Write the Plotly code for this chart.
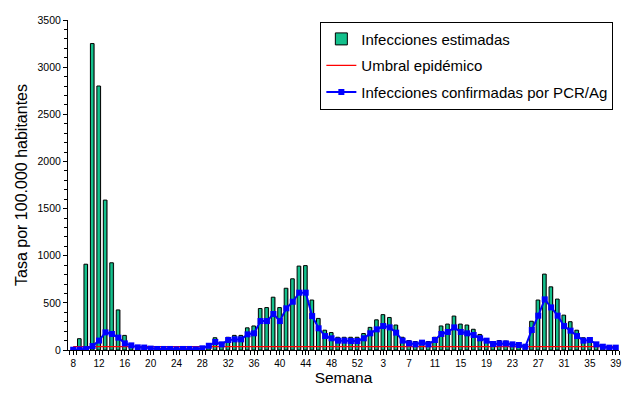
import plotly.graph_objects as go

semanas = [8, 9, 10, 11, 12, 13, 14, 15, 16, 17, 18, 19, 20, 21, 22, 23, 24, 25, 26, 27,
           28, 29, 30, 31, 32, 33, 34, 35, 36, 37, 38, 39, 40, 41, 42, 43, 44, 45, 46, 47,
           48, 49, 50, 51, 52, 53,
           1, 2, 3, 4, 5, 6, 7, 8, 9, 10, 11, 12, 13, 14, 15, 16, 17, 18, 19, 20,
           21, 22, 23, 24, 25, 26, 27, 28, 29, 30, 31, 32, 33, 34, 35, 36, 37, 38, 39]

infecciones_estimadas = [5, 120, 910, 3250, 2800, 1590, 925, 425, 155, 45, 35, 30, 25, 20, 20, 15, 15, 15, 15, 10,
                         25, 40, 130, 80, 135, 155, 155, 235, 255, 440, 450, 560, 450, 655, 755, 890, 895, 530, 335, 210,
                         185, 135, 135, 135, 135, 175,
                         240, 320, 375, 345, 265, 135, 100, 90, 95, 90, 135, 255, 275, 360, 275, 265, 220, 165, 115, 80,
                         100, 95, 70, 60, 45, 305, 530, 805, 670, 540, 370, 300, 210, 130, 120, 70, 40, 35, 35]

infecciones_confirmadas = [3, 5, 10, 42, 100, 187, 170, 131, 70, 49, 28, 26, 15, 11, 11, 11, 7, 11, 11, 7,
                           18, 45, 85, 60, 106, 113, 113, 166, 177, 307, 307, 382, 307, 442, 512, 608, 608, 360, 230, 148,
                           124, 99, 99, 95, 95, 124,
                           177, 219, 254, 240, 184, 99, 70, 60, 78, 60, 106, 170, 191, 240, 191, 177, 159, 124, 99, 64,
                           70, 70, 60, 53, 35, 212, 364, 537, 452, 364, 254, 205, 148, 99, 106, 60, 35, 25, 25]

umbral_epidemico = 35

pos = list(range(len(semanas)))
tick_pos = pos[::4]
tick_txt = [str(s) for s in semanas[::4]]

FONT = "Liberation Sans, Arial, sans-serif"

fig = go.Figure()

# shadow of bars
fig.add_trace(go.Bar(
    x=pos, y=infecciones_estimadas, width=0.55, offset=-0.2,
    marker=dict(color="#b0b0b0", line=dict(width=0)),
    showlegend=False, hoverinfo="skip"))

fig.add_trace(go.Bar(
    x=pos, y=infecciones_estimadas, width=0.55, offset=-0.33,
    name="Infecciones estimadas", legendgroup="a",
    marker=dict(color="#14c08c", line=dict(color="black", width=1))))

fig.add_trace(go.Scatter(
    x=[pos[0], pos[-1]], y=[umbral_epidemico, umbral_epidemico], mode="lines",
    name="Umbral epidémico", legendgroup="b",
    line=dict(color="#ff0000", width=1.3)))

fig.add_trace(go.Scatter(
    x=pos, y=infecciones_confirmadas, mode="lines+markers",
    name="Infecciones confirmadas por PCR/Ag", legendgroup="c",
    line=dict(color="#0000ff", width=2),
    marker=dict(symbol="square", size=6, color="#0000ff")))

fig.update_layout(
    width=622, height=394,
    margin=dict(l=68, r=3, t=20, b=44),
    paper_bgcolor="white", plot_bgcolor="white",
    barmode="overlay",
    font=dict(family=FONT, size=11, color="black"),
    showlegend=True,
    legend=dict(x=0.458, y=0.995, xanchor="left", yanchor="top",
                bordercolor="black", borderwidth=1, bgcolor="white",
                font=dict(family=FONT, size=15), tracegroupgap=4,
                itemwidth=30),
    xaxis=dict(range=[-0.8, 84.5], tickmode="array", tickvals=tick_pos, ticktext=tick_txt,
               showline=True, linecolor="black", linewidth=1, ticks="outside",
               ticklen=4, tickcolor="black", showgrid=False, zeroline=False,
               minor=dict(tickmode="linear", tick0=0.5, dtick=1, ticks="outside", ticklen=4, tickcolor="black"),
               title=dict(text="Semana", font=dict(family=FONT, size=15.5), standoff=2),
               tickfont=dict(size=10), automargin=False),
    yaxis=dict(range=[0, 3500], dtick=500, showline=True, linecolor="black", linewidth=1,
               ticks="outside", ticklen=4, tickcolor="black", showgrid=False, zeroline=False,
               minor=dict(dtick=100, ticks="outside", ticklen=3, tickcolor="black"),
               title=dict(text="Tasa por 100.000 habitantes", font=dict(family=FONT, size=16), standoff=5),
               tickfont=dict(size=10.5), automargin=False),
)

fig.write_html("out.html", config={"displayModeBar": False},
               post_script="document.body.style.margin='0';document.body.style.padding='0';")
